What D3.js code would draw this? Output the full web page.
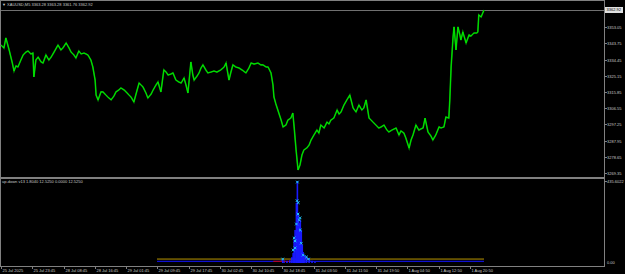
<!DOCTYPE html>
<html>
<head>
<meta charset="utf-8">
<script src="https://cdn.jsdelivr.net/npm/d3@7"></script>
<style>
  body { margin: 0; background: #000; }
  svg { display: block; }
  text { font-family: "Liberation Sans", Arial, sans-serif; }
</style>
</head>
<body>
<div id="chart-area"></div>
<script>
// XAUUSD M5 closes, sampled (bar index counted in M5 bars from 25 Jul 2025)
var priceBars = [0,9,15,25,34,40,46,52,61,68,77,83,92,98,101,107,114,123,129,138,147,154,163,175,184,190,200,209,215,224,230,239,246,255,261,267,276,282,289,292,298,307,313,322,328,338,347,353,362,368,378,384,393,399,408,418,424,430,436,445,451,461,467,476,482,491,500,507,513,522,528,537,546,553,562,568,574,583,589,593,602,608,614,620,629,635,645,654,663,675,685,691,700,706,712,721,731,740,752,761,768,777,789,798,804,814,820,829,835,838,844,850,860,866,875,881,890,896,900,906,912,918,924,930,939,946,952,961,970,976,982,992,1001,1007,1013,1022,1032,1038,1044,1053,1062,1071,1078,1081,1090,1099,1108,1114,1121,1130,1136,1142,1151,1160,1167,1176,1185,1191,1200,1213,1222,1228,1237,1243,1253,1259,1265,1274,1283,1289,1296,1302,1311,1320,1326,1335,1345,1351,1360,1366,1375,1378,1382,1388,1391,1397,1403,1409,1412,1418,1428,1437,1443,1452,1461,1464,1467,1474,1483];
var prices = [3342.8,3341.1,3346.9,3340.0,3333.1,3327.9,3330.8,3330.2,3334.2,3337.1,3338.8,3339.4,3337.7,3338.2,3324.5,3334.2,3335.9,3333.1,3332.5,3337.1,3334.2,3335.9,3338.8,3342.8,3340.0,3341.1,3344.0,3341.1,3338.8,3337.1,3335.4,3339.4,3337.7,3338.2,3337.7,3337.1,3334.2,3330.2,3322.7,3314.1,3311.3,3315.9,3315.9,3314.1,3313.0,3311.3,3313.6,3315.9,3317.0,3318.2,3317.0,3315.9,3314.1,3313.0,3310.1,3317.0,3321.0,3319.9,3318.7,3315.3,3312.4,3314.7,3317.0,3319.9,3321.6,3315.9,3328.5,3327.3,3325.6,3326.2,3326.8,3322.7,3321.6,3321.0,3323.9,3319.9,3315.3,3333.1,3325.6,3322.7,3325.0,3326.8,3329.6,3331.4,3328.5,3326.8,3327.3,3327.9,3327.3,3328.5,3330.2,3332.5,3322.7,3327.3,3331.4,3330.2,3329.6,3328.5,3326.8,3329.6,3332.5,3331.9,3332.5,3331.4,3331.4,3330.2,3330.2,3326.8,3319.9,3313.0,3309.0,3305.5,3299.8,3295.8,3296.9,3299.8,3300.9,3303.8,3295.8,3282.6,3271.1,3274.0,3279.7,3282.6,3283.7,3285.4,3288.3,3291.2,3294.0,3292.3,3296.9,3295.2,3298.6,3297.5,3299.8,3300.9,3305.5,3303.2,3304.4,3308.4,3311.3,3314.1,3309.0,3306.7,3304.4,3308.4,3305.5,3306.7,3311.3,3300.9,3299.8,3298.6,3296.9,3295.2,3295.8,3296.9,3294.0,3292.9,3294.0,3295.2,3291.2,3293.5,3292.3,3289.5,3283.7,3288.3,3291.2,3296.9,3294.0,3294.6,3295.2,3300.9,3292.9,3290.6,3288.3,3291.2,3295.8,3295.2,3295.8,3301.5,3300.9,3311.3,3330.2,3347.4,3353.2,3340.0,3353.2,3348.6,3345.7,3350.3,3344.0,3348.6,3348.0,3349.7,3349.7,3350.3,3360.1,3358.9,3362.9];

var lastPrice = 3362.92;
var headerText = "XAUUSD,M5  3363.28 3363.28 3361.76 3362.92";
var priceTicks = [3353.05, 3343.75, 3334.45, 3325.15, 3315.85, 3306.55, 3297.25, 3287.95, 3278.65, 3269.35];

var timeLabels = ["25 Jul 2025","25 Jul 23:45","28 Jul 08:45","28 Jul 16:45","29 Jul 01:45","29 Jul 09:45","29 Jul 17:45","30 Jul 02:45","30 Jul 10:45","30 Jul 18:45","31 Jul 03:50","31 Jul 11:50","31 Jul 19:50","1 Aug 04:50","1 Aug 12:50","1 Aug 20:50"];
var timeBars = [0,96,192,288,384,480,576,672,768,864,960,1056,1152,1248,1344,1440];

// up-down v13 indicator
var indName = "up-down v13 1.8040 12.5250 0.0000 12.5250";
var indMax = 435.6022;
var histBars = [865,869,878,887,893,897,900,903,907,910,913,916,919,922,925,928,933,938,946,955,964];
var histVals = [21,8,10,15,30,53,122,175,319,435.6,266,212,228,175,96,58,42,32,27,12,6];
var markBars = [865,897,900,903,903,907,909,910,912,913,916,918,919,922,928,938,944];
var markVals = [21,69,133,117,80,207,331,430,260,320,228,240,175,105,42,32,21];
var yellowBars = [479, 1483];
var yellowVals = [21, 21];
var blueBars = [479, 1483];
var blueVals = [9, 9];
var redBars = [836, 890];
var redVals = [9, 9];

var W = 625, H = 274;
var plotRight = 604;
var indBottom = 266;

var svg = d3.select("#chart-area").append("svg")
    .attr("width", W).attr("height", H)
    .style("background", "#000");

var x = d3.scaleLinear().domain([0, 1440]).range([1, 470]);
var y = d3.scaleLinear().domain([3269.36, 3362.92]).range([173, 10]);
var yI = d3.scaleLinear().domain([0, indMax]).range([263, 181]);

var gray = "#808080", txt = "#c8c8c8";

// frames
svg.append("rect").attr("x", 0.5).attr("y", 0.5)
    .attr("width", plotRight).attr("height", indBottom)
    .attr("fill", "none").attr("stroke", gray).attr("stroke-width", 1);
svg.append("line").attr("x1", 0).attr("x2", plotRight + 0.5)
    .attr("y1", 178).attr("y2", 178)
    .attr("stroke", gray).attr("stroke-width", 2);

// last price line
svg.append("line").attr("x1", 1).attr("x2", plotRight)
    .attr("y1", Math.round(y(lastPrice)) + 0.5).attr("y2", Math.round(y(lastPrice)) + 0.5)
    .attr("stroke", "#707070").attr("stroke-width", 1);

// price series
var pts = priceBars.map(function (b, i) { return [b, prices[i]]; });
var line = d3.line().x(function (d) { return x(d[0]); }).y(function (d) { return y(d[1]); });
svg.append("path").datum(pts).attr("d", line)
    .attr("fill", "none").attr("stroke", "#00a000").attr("stroke-width", 1.6)
    .attr("stroke-linejoin", "miter");
svg.append("path").datum(pts).attr("d", line)
    .attr("fill", "none").attr("stroke", "#00ff00").attr("stroke-width", 0.7)
    .attr("stroke-linejoin", "miter");

// header
svg.append("text").attr("x", 2).attr("y", 6).attr("font-size", "4px").attr("fill", txt)
    .text("\u25BC " + headerText);

// price axis
var yAxis = svg.append("g");
priceTicks.forEach(function (v) {
  var py = Math.round(y(v)) + 0.5;
  yAxis.append("line").attr("x1", plotRight).attr("x2", plotRight + 3)
      .attr("y1", py).attr("y2", py).attr("stroke", gray);
  yAxis.append("text").attr("x", plotRight + 3).attr("y", py + 1.4)
      .attr("font-size", "4px").attr("fill", txt).text(v.toFixed(2));
});
var lpY = y(lastPrice);
svg.append("rect").attr("x", plotRight + 1).attr("y", lpY - 3)
    .attr("width", 18).attr("height", 6).attr("fill", "#e0e0e0");
svg.append("text").attr("x", plotRight + 2.5).attr("y", lpY + 1.4)
    .attr("font-size", "4px").attr("fill", "#000").text(lastPrice.toFixed(2));

// indicator
svg.append("text").attr("x", 2).attr("y", 183).attr("font-size", "4px").attr("fill", txt)
    .text(indName);
svg.append("text").attr("x", plotRight + 3).attr("y", 182.5).attr("font-size", "4px").attr("fill", txt)
    .text("435.6022");
svg.append("line").attr("x1", plotRight).attr("x2", plotRight + 3)
    .attr("y1", 181.5).attr("y2", 181.5).attr("stroke", gray);
svg.append("text").attr("x", plotRight + 3).attr("y", 263.5).attr("font-size", "4px").attr("fill", txt)
    .text("0.00");

var lineI = d3.line().x(function (d) { return x(d[0]); }).y(function (d) { return yI(d[1]); });
svg.append("path").datum(yellowBars.map(function (b, i) { return [b, yellowVals[i]]; }))
    .attr("d", lineI).attr("fill", "none").attr("stroke", "#b89400").attr("stroke-width", 1);
svg.append("path").datum(blueBars.map(function (b, i) { return [b, blueVals[i]]; }))
    .attr("d", lineI).attr("fill", "none").attr("stroke", "#1010d0").attr("stroke-width", 1.2);
svg.append("path").datum(redBars.map(function (b, i) { return [b, redVals[i]]; }))
    .attr("d", lineI).attr("fill", "none").attr("stroke", "#d00000").attr("stroke-width", 1);

svg.append("g").selectAll("line").data(histBars).enter().append("line")
    .attr("x1", function (b) { return x(b); }).attr("x2", function (b) { return x(b); })
    .attr("y1", yI(0)).attr("y2", function (b, i) { return yI(histVals[i]); })
    .attr("stroke", "#1a1aff").attr("stroke-width", 1.6);

var mk = svg.append("g").attr("stroke", "#22c8ff").attr("stroke-width", 1);
markBars.forEach(function (b, i) {
  var mx = x(b), my = yI(markVals[i]), s = 1.3;
  mk.append("path").attr("d", "M" + (mx - s) + "," + (my - s) + "L" + (mx + s) + "," + (my + s) +
      "M" + (mx - s) + "," + (my + s) + "L" + (mx + s) + "," + (my - s));
});

// time axis
var xAxis = svg.append("g");
timeBars.forEach(function (b, i) {
  var px = Math.round(x(b)) + 0.5;
  xAxis.append("line").attr("x1", px).attr("x2", px).attr("y1", indBottom).attr("y2", indBottom + 3)
      .attr("stroke", gray);
  xAxis.append("text").attr("x", px + 1).attr("y", 271.5).attr("font-size", "4px").attr("fill", txt)
      .text(timeLabels[i]);
});
</script>
</body>
</html>
